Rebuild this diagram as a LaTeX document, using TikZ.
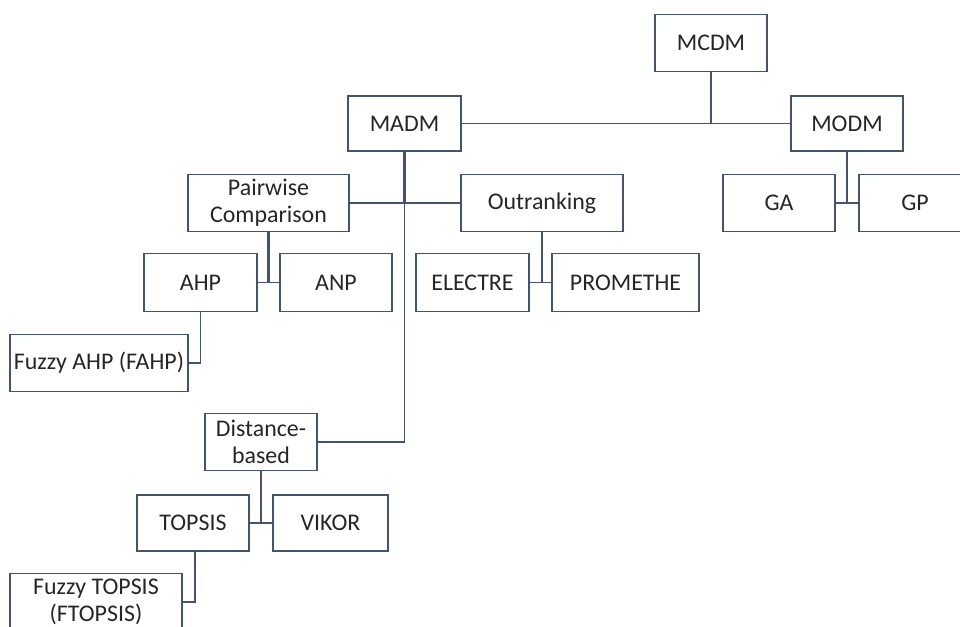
\documentclass[tikz,border=0pt]{standalone}
\usepackage{fontspec}
\setmainfont{Carlito}
\definecolor{linegray}{RGB}{68,84,106}

\begin{document}
\begin{tikzpicture}[
    x=0.02cm, y=-0.02cm,
    box/.style={rectangle, draw=linegray, line width=0.7pt, fill=white,
        minimum width=2.24cm, minimum height=1.15cm, inner sep=1pt,
        align=center, text=black!85, font=\fontsize{13.6}{15.4}\selectfont},
    edge/.style={draw=linegray, line width=0.7pt},
    trunk/.style={draw=linegray, line width=1.3pt}
]
    \useasboundingbox (0,0) rectangle (960,626);
    \clip (0,0) rectangle (960,626);
    \node[box] (mcdm) at (711,43) {MCDM};
    \node[box, minimum width=2.26cm, minimum height=1.1cm] (madm) at (404.5,123.5) {MADM};
    \node[box, minimum height=1.1cm] (modm) at (847,123.5) {MODM};
    \node[box, minimum width=3.22cm] (pair) at (268.5,203) {Pairwise\\Comparison};
    \node[box, minimum width=3.24cm] (outr) at (542,203) {Outranking};
    \node[box] (ga) at (779,203) {GA};
    \node[box] (gp) at (915,203) {GP};
    \node[box, minimum width=2.26cm] (ahp) at (200.5,282.5) {AHP};
    \node[box] (anp) at (336,282.5) {ANP};
    \node[box, minimum width=2.26cm] (electre) at (472.5,282.5) {ELECTRE};
    \node[box, minimum width=2.94cm] (promethe) at (625.5,282.5) {PROMETHE};
    \node[box, minimum width=3.56cm] (fahp) at (99,363) {Fuzzy AHP (FAHP)};
    \node[box] (dist) at (261,442) {Distance-\\based};
    \node[box, minimum height=1.12cm] (topsis) at (193,523) {TOPSIS};
    \node[box, minimum width=2.3cm, minimum height=1.12cm] (vikor) at (330.5,523) {VIKOR};
    \node[box, minimum width=3.44cm] (ftopsis) at (96,602) {Fuzzy TOPSIS\\(FTOPSIS)};
    % top level
    \draw[edge] (madm.east) -- (modm.west);
    \draw[edge] (mcdm.south) -- (mcdm.south |- madm.east);
    % MADM branch
    \draw[trunk] (madm.south) -- (madm.south |- pair.east);
    \draw[edge] (madm.south |- pair.east) |- (dist.east);
    \draw[edge] (pair.east) -- (outr.west);
    \draw[trunk] (pair.south) -- (pair.south |- ahp.east);
    \draw[edge] (ahp.east) -- (anp.west);
    \draw[edge] (ahp.south) |- (fahp.east);
    \draw[trunk] (outr.south) -- (outr.south |- electre.east);
    \draw[edge] (electre.east) -- (promethe.west);
    \draw[trunk] (dist.south) -- (dist.south |- topsis.east);
    \draw[edge] (topsis.east) -- (vikor.west);
    \draw[edge] ([xshift=0.04cm]topsis.south) |- (ftopsis.east);
    % MODM branch
    \draw[trunk] (modm.south) -- (modm.south |- ga.east);
    \draw[edge] (ga.east) -- (gp.west);
\end{tikzpicture}
\end{document}
